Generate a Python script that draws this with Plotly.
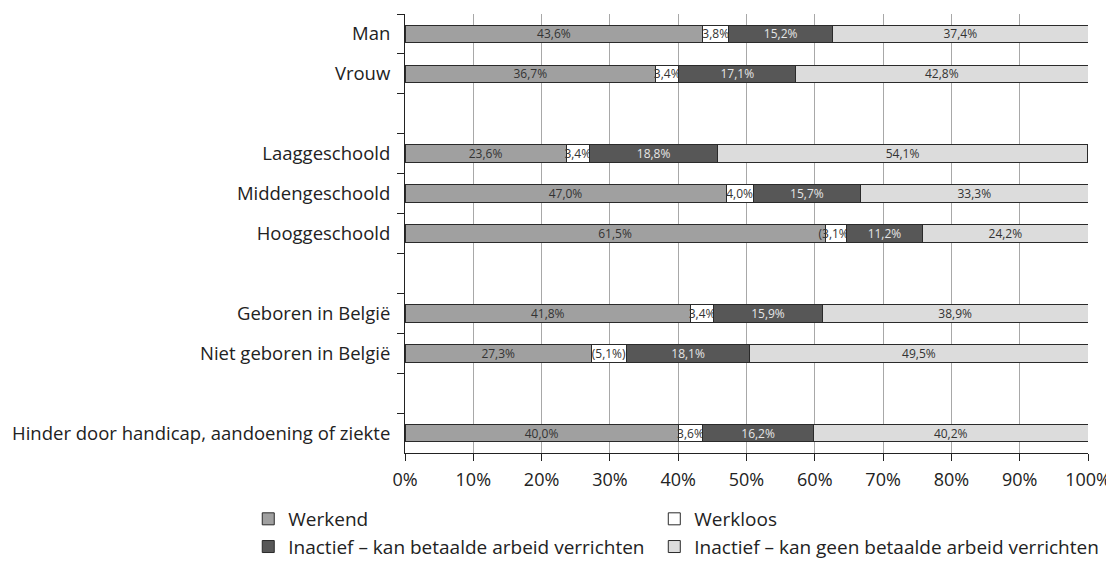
import plotly.graph_objects as go

categories = ["Man", "Vrouw", " ", "Laaggeschoold", "Middengeschoold", "Hooggeschoold", "  ",
              "Geboren in België", "Niet geboren in België", "   ",
              "Hinder door handicap, aandoening of ziekte"]

werkend = [43.6, 36.7, None, 23.6, 47.0, 61.5, None, 41.8, 27.3, None, 40.0]
werkloos = [3.8, 3.4, None, 3.4, 4.0, 3.1, None, 3.4, 5.1, None, 3.6]
inactief_kan = [15.2, 17.1, None, 18.8, 15.7, 11.2, None, 15.9, 18.1, None, 16.2]
inactief_geen = [37.4, 42.8, None, 54.1, 33.3, 24.2, None, 38.9, 49.5, None, 40.2]

werkloos_labels = ["3,8%", "3,4%", "", "3,4%", "4,0%", "(3,1%)", "", "3,4%", "(5,1%)", "", "3,6%"]

def fmt(vals):
    return ["" if v is None else f"{v:.1f}".replace(".", ",") + "%" for v in vals]

series = [
    ("Werkend", werkend, fmt(werkend), "#a0a0a0", "#333333", "legend"),
    ("Werkloos", werkloos, werkloos_labels, "#ffffff", "#333333", "legend2"),
    ("Inactief – kan betaalde arbeid verrichten", inactief_kan, fmt(inactief_kan), "#575757", "#e6e6e6", "legend"),
    ("Inactief – kan geen betaalde arbeid verrichten", inactief_geen, fmt(inactief_geen), "#dcdcdc", "#333333", "legend2"),
]

FONT = "Open Sans"

fig = go.Figure()
for name, vals, labels, color, tcolor, leg in series:
    fig.add_trace(go.Bar(
        y=categories, x=vals, name=name, orientation="h", legend=leg,
        marker=dict(color=color, line=dict(color="#2a2a2a", width=1)),
        text=labels, textposition="inside", insidetextanchor="middle",
        constraintext="none", cliponaxis=False,
        textfont=dict(family=FONT, size=12, color=tcolor),
        hoverinfo="skip",
    ))

legend_common = dict(
    orientation="v", yanchor="top", xanchor="left",
    font=dict(family=FONT, size=19, color="#222222"),
    traceorder="normal", itemclick=False, itemdoubleclick=False,
    tracegroupgap=0, bgcolor="rgba(0,0,0,0)",
)

# the page body adds an 8px offset; figure is sized to fit the window
fig.update_layout(
    barmode="stack",
    bargap=0.56,
    width=1106, height=555,
    margin=dict(l=397, r=26, t=6, b=110, autoexpand=False),
    paper_bgcolor="white", plot_bgcolor="white",
    font=dict(family=FONT, size=16, color="#222222"),
    uniformtext=dict(minsize=12, mode="show"),
    showlegend=True,
    legend=dict(x=-0.2295, y=-0.107, **legend_common),
    legend2=dict(x=0.365, y=-0.107, **legend_common),
    xaxis=dict(
        range=[0, 100], tickvals=[0, 10, 20, 30, 40, 50, 60, 70, 80, 90, 100],
        ticktext=[f"{v}%" for v in range(0, 101, 10)],
        showgrid=True, gridcolor="#a8a8a8", gridwidth=1,
        showline=True, linecolor="#222222", linewidth=1,
        ticks="outside", ticklen=7, tickcolor="#222222",
        ticklabelstandoff=3, automargin=False,
        tickfont=dict(family=FONT, size=18, color="#222222"),
        zeroline=False, fixedrange=True,
    ),
    yaxis=dict(
        categoryorder="array", categoryarray=categories, autorange="reversed",
        showline=True, linecolor="#222222", linewidth=1,
        ticks="outside", ticklen=7, tickcolor="#222222", tickson="boundaries",
        showgrid=False, ticklabelstandoff=10, automargin=False,
        tickfont=dict(family=FONT, size=18.5, color="#222222"),
        fixedrange=True,
    ),
)

fig.write_html("out.html")
